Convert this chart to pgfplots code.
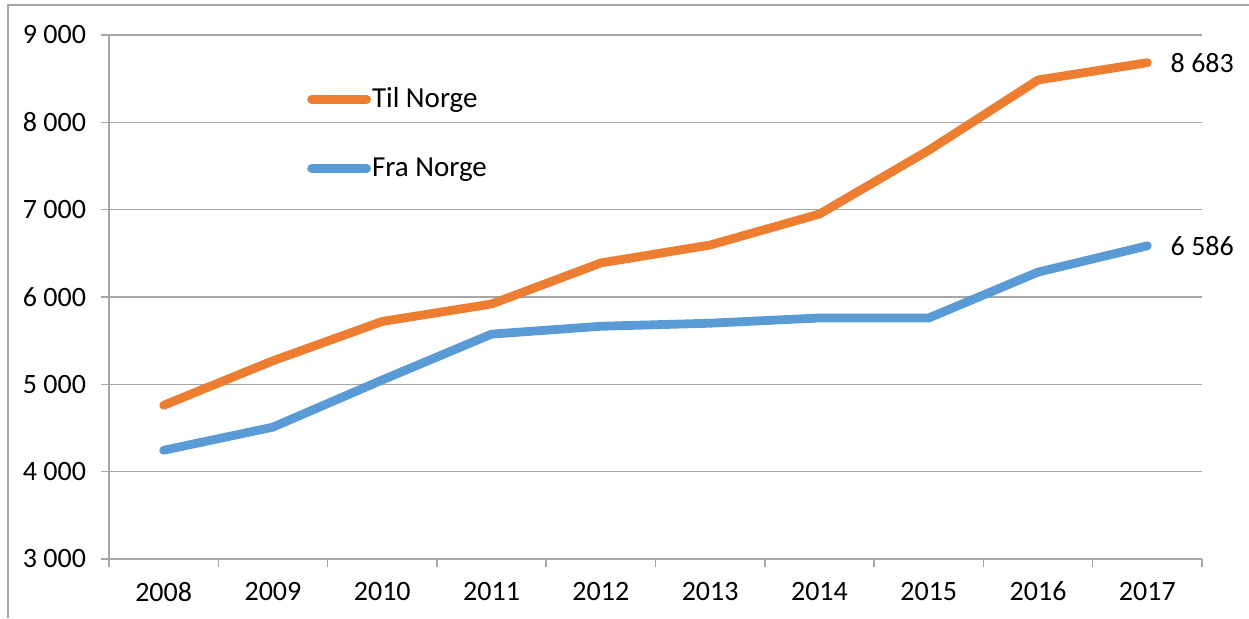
\documentclass[border=0pt]{standalone}
\usepackage{pgfplots}
\pgfplotsset{compat=1.18}
\usepackage{fontspec}
\setmainfont{Carlito}
\definecolor{tilc}{HTML}{ED7D31}
\definecolor{frac}{HTML}{5B9BD5}
\definecolor{gridc}{HTML}{A6A6A6}
\begin{document}
\begin{tikzpicture}[x=1pt,y=1pt]
\useasboundingbox (0,0) rectangle (624.5,309);
\draw[gridc,line width=0.75pt] (4,0) -- (4,306.5) -- (624.5,306.5);
\begin{axis}[
  at={(54.5pt,29.5pt)}, anchor=south west,
  scale only axis, width=546.5pt, height=262pt,
  xmin=-0.5, xmax=9.5, ymin=3000, ymax=9000,
  clip mode=individual,
  axis x line*=bottom, axis y line*=left,
  axis line style={gridc,line width=0.75pt},
  xtick={0,...,9},
  xticklabels={2008,2009,2010,2011,2012,2013,2014,2015,2016,2017},
  minor xtick={-0.5,0.5,...,9.5},
  major x tick style={draw=none},
  minor x tick style={gridc,line width=0.75pt},
  minor tick length=4pt,
  ytick={3000,4000,...,9000},
  major tick length=4pt,
  tick align=outside,
  y tick style={gridc,line width=0.75pt},
  ymajorgrids, grid style={gridc,line width=0.75pt},
  /pgf/number format/assume math mode=true,
  /pgf/number format/1000 sep={\ },
  scaled y ticks=false,
  tick label style={font=\fontsize{14}{16}\selectfont},
  yticklabel style={xshift=-4pt},
  xticklabel style={yshift=-4pt},
  legend cell align=left,
  legend style={draw=none, fill=none, at={(0.181,0.812)}, anchor=west,
    inner sep=0pt, row sep=22.5pt, font=\fontsize{14.5}{16}\selectfont,
    nodes={inner sep=0.5pt}},
  legend image code/.code={\draw[#1] (0pt,0pt) -- (27.5pt,0pt);},
]
\addplot[tilc, line width=4.4pt, line cap=round, line join=round] coordinates {
 (0,4760) (1,5270) (2,5720) (3,5920) (4,6390) (5,6595) (6,6950) (7,7680) (8,8485) (9,8683)};
\addlegendentry{Til Norge}
\addplot[frac, line width=4.4pt, line cap=round, line join=round] coordinates {
 (0,4245) (1,4510) (2,5050) (3,5575) (4,5665) (5,5700) (6,5760) (7,5760) (8,6285) (9,6586)};
\addlegendentry{Fra Norge}
\node[anchor=west, font=\fontsize{14}{16}\selectfont, inner sep=0pt] at (axis cs:9,8683) [xshift=11.5pt] {8 683};
\node[anchor=west, font=\fontsize{14}{16}\selectfont, inner sep=0pt] at (axis cs:9,6586) [xshift=11.5pt] {6 586};
\end{axis}
\end{tikzpicture}
\end{document}
